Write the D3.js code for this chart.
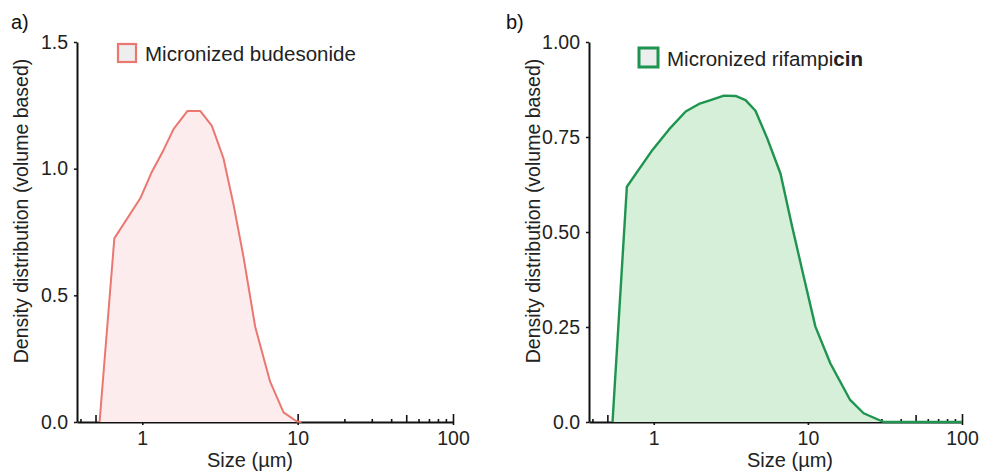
<!DOCTYPE html>
<html>
<head>
<meta charset="utf-8">
<script src="https://cdn.jsdelivr.net/npm/d3@7"></script>
<style>
  body { margin: 0; background: #fff; }
  svg { font-family: "Liberation Sans", Arial, sans-serif; }
  .tick text { font-size: 19.5px; fill: #222; }
</style>
</head>
<body>
<div class="chart"></div>
<script>
let FRAME_WIDTH = 987;
let FRAME_HEIGHT = 473;

// panel a: micronized budesonide (size in um, density)
const budesonideSize = [0.531, 0.661, 0.971, 1.154, 1.371, 1.589, 1.955, 2.36, 2.805, 3.33, 3.87, 4.48, 5.33, 6.65, 8.11, 9.89, 10.6];
const budesonideDensity = [0, 0.725, 0.883, 0.988, 1.074, 1.156, 1.228, 1.228, 1.169, 1.041, 0.857, 0.653, 0.376, 0.159, 0.038, 0.002, 0];

// panel b: micronized rifampicin
const rifampicinSize = [0.540, 0.669, 0.981, 1.256, 1.611, 1.964, 2.338, 2.852, 3.395, 3.94, 4.57, 5.44, 6.64, 7.91, 9.40, 11.19, 14.0, 18.8, 23.0, 31.0, 100];
const rifampicinDensity = [0, 0.619, 0.716, 0.770, 0.817, 0.837, 0.847, 0.859, 0.858, 0.847, 0.819, 0.747, 0.654, 0.514, 0.382, 0.251, 0.154, 0.058, 0.023, 0, 0];

// axis ticks
const xMajorTicks = [1, 10, 100];
const xMidTicks = [0.5, 5, 50];
const xMinorTicks = [0.4, 0.6, 0.7, 0.8, 0.9, 2, 3, 4, 6, 7, 8, 9, 20, 30, 40, 60, 70, 80, 90];
const yTicksA = [0, 0.5, 1.0, 1.5];
const yTickLabelsA = ["0.0", "0.5", "1.0", "1.5"];
const yTicksB = [0, 0.25, 0.5, 0.75, 1.0];
const yTickLabelsB = ["0.0", "0.25", "0.50", "0.75", "1.00"];

let SVG = d3.select(".chart")
            .append("svg")
            .attr("width", FRAME_WIDTH)
            .attr("height", FRAME_HEIGHT);

let panels = [
  {letter: "a)", letterX: 11, left: 77, right: 453, yMax: 1.5, titleX: 250,
   sizes: budesonideSize, dens: budesonideDensity,
   ticks: yTicksA, tickLabels: yTickLabelsA,
   stroke: "#ea7770", fill: "#fdeced", strokeW: 2,
   legendX: 118, legendY: 44, legendBox: 18, legendStroke: 2.2,
   legendParts: [["Micronized budesonide", "normal"]]},
  {letter: "b)", letterX: 506, left: 589, right: 962, yMax: 1.0, titleX: 790,
   sizes: rifampicinSize, dens: rifampicinDensity,
   ticks: yTicksB, tickLabels: yTickLabelsB,
   stroke: "#1f9450", fill: "#d5efd9", strokeW: 2.4,
   legendX: 639, legendY: 48, legendBox: 19, legendStroke: 3,
   legendParts: [["Micronized rifampi", "normal"], ["cin", "bold"]]}
];

const TOP = 42;
const BOTTOM = 422;

panels.forEach((p) => {
  const X_SCALE = d3.scaleLog().domain([0.38, 100]).range([p.left, p.right]);
  const Y_SCALE = d3.scaleLinear().domain([0, p.yMax]).range([BOTTOM, TOP]);

  let g = SVG.append("g");

  // x axis: major ticks (down part + labels)
  let xAxis = g.append("g")
     .attr("transform", "translate(0," + BOTTOM + ")")
     .call(d3.axisBottom(X_SCALE).tickValues(xMajorTicks)
            .tickFormat(d3.format("d")).tickSizeInner(3).tickSizeOuter(0).tickPadding(6));
  xAxis.select(".domain").attr("stroke", "#111").attr("stroke-width", 2);
  xAxis.selectAll(".tick line").attr("stroke", "#111").attr("stroke-width", 1.6);

  // upward ticks
  [[xMajorTicks, 8], [xMidTicks, 7], [xMinorTicks, 3]].forEach(([vals, len]) => {
    let t = g.append("g")
       .attr("transform", "translate(0," + BOTTOM + ")")
       .call(d3.axisBottom(X_SCALE).tickValues(vals).tickSize(-len).tickFormat(""));
    t.select(".domain").remove();
    t.selectAll(".tick line").attr("stroke", "#111").attr("stroke-width", 1.6);
  });

  // y axis
  let yAxis = g.append("g")
     .attr("transform", "translate(" + p.left + ",0)")
     .call(d3.axisLeft(Y_SCALE).tickValues(p.ticks)
            .tickFormat((d, i) => p.tickLabels[i]).tickSizeInner(3).tickSizeOuter(0).tickPadding(6));
  yAxis.select(".domain").attr("stroke", "#111").attr("stroke-width", 2);
  yAxis.selectAll(".tick line").attr("stroke", "#111").attr("stroke-width", 1.5);

  // data area + outline
  let pts = p.sizes.map((s, i) => [s, p.dens[i]]);
  g.append("path")
   .datum(pts)
   .attr("d", d3.area().x((d) => X_SCALE(d[0])).y0(Y_SCALE(0)).y1((d) => Y_SCALE(d[1])))
   .attr("fill", p.fill);
  g.append("path")
   .datum(pts)
   .attr("d", d3.line().x((d) => X_SCALE(d[0])).y((d) => Y_SCALE(d[1])))
   .attr("fill", "none")
   .attr("stroke", p.stroke)
   .attr("stroke-width", p.strokeW)
   .attr("stroke-linejoin", "round");

  // axis titles
  g.append("text")
   .attr("x", p.titleX)
   .attr("y", 467)
   .attr("text-anchor", "middle")
   .style("font-size", "20px")
   .attr("fill", "#222")
   .text("Size (\u00b5m)");

  g.append("text")
   .attr("transform", "translate(" + (p.left - 49) + "," + 211 + ") rotate(-90)")
   .attr("text-anchor", "middle")
   .style("font-size", "19.5px")
   .attr("fill", "#222")
   .text("Density distribution (volume based)");

  // panel letter
  g.append("text")
   .attr("x", p.letterX)
   .attr("y", 29)
   .style("font-size", "20px")
   .attr("fill", "#111")
   .text(p.letter);

  // legend
  g.append("rect")
   .attr("x", p.legendX)
   .attr("y", p.legendY)
   .attr("width", p.legendBox)
   .attr("height", p.legendBox)
   .attr("fill", "#eeeeee")
   .attr("stroke", p.stroke)
   .attr("stroke-width", p.legendStroke);

  let lt = g.append("text")
   .attr("x", p.legendX + p.legendBox + 9)
   .attr("y", p.legendY + p.legendBox - 1)
   .style("font-size", "20.5px")
   .attr("fill", "#222");
  p.legendParts.forEach(([txt, w]) => {
    lt.append("tspan").style("font-weight", w).text(txt);
  });
});
</script>
</body>
</html>
